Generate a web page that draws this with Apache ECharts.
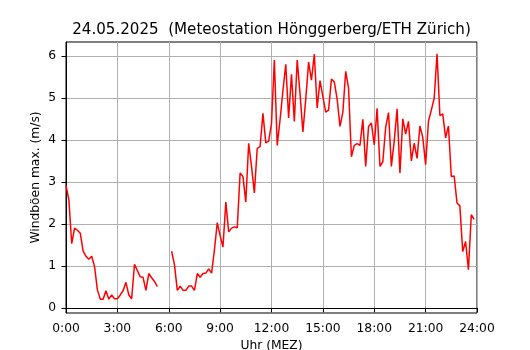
<!DOCTYPE html>
<html>
<head>
<meta charset="utf-8">
<script src="https://cdn.jsdelivr.net/npm/echarts@6/dist/echarts.min.js"></script>
<style>
  html, body { margin: 0; padding: 0; background: #fff; }
  #chart { width: 530px; height: 350px; }
</style>
</head>
<body>
<div id="chart"></div>
<script>
// Windböen, 10-Minuten-Werte ab 0:00 (null = keine Messung)
const stepMinutes = 10;
const gustValues = [
  2.92, 2.58, 1.53, 1.90, 1.85, 1.78, 1.35, 1.23, 1.16, 1.23, 0.99, 0.43,
  0.21, 0.21, 0.41, 0.21, 0.31, 0.22, 0.22, 0.31, 0.41, 0.61, 0.31, 0.22,
  1.04, 0.89, 0.74, 0.73, 0.42, 0.82, 0.72, 0.63, 0.51, null, null, null,
  null, 1.35, 1.03, 0.42, 0.52, 0.42, 0.42, 0.52, 0.52, 0.42, 0.82, 0.73,
  0.82, 0.83, 0.93, 0.83, 1.38, 2.03, 1.72, 1.45, 2.52, 1.81, 1.90, 1.93,
  1.91, 3.21, 3.13, 2.52, 3.92, 3.37, 2.74, 3.80, 3.84, 4.63, 3.93, 3.97,
  4.39, 5.90, 3.87, 4.48, 5.17, 5.80, 4.52, 5.56, 4.44, 5.90, 5.10, 4.19,
  4.97, 5.85, 5.42, 6.04, 4.76, 5.41, 5.03, 4.66, 4.71, 5.45, 5.38, 4.97,
  4.32, 4.66, 5.63, 5.23, 3.60, 3.87, 3.91, 3.87, 4.49, 3.37, 4.32, 4.40,
  3.88, 4.75, 3.37, 3.48, 4.30, 4.65, 3.37, 3.97, 4.74, 3.21, 4.50, 4.14,
  4.44, 3.50, 3.92, 3.56, 4.33, 4.06, 3.41, 4.45, 4.71, 4.99, 6.05, 4.58,
  4.62, 4.05, 4.33, 3.13, 3.14, 2.50, 2.43, 1.34, 1.58, 0.91, 2.22, 2.11
];
const hourTickLabels = ['0:00', '3:00', '6:00', '9:00', '12:00', '15:00', '18:00', '21:00', '24:00'];
const yTickValues = [0, 1, 2, 3, 4, 5, 6];

const seriesData = gustValues.map((v, i) => [i * stepMinutes, v]);

const font = 'DejaVu Sans';
const chart = echarts.init(document.getElementById('chart'), null, { renderer: 'canvas' });

chart.setOption({
  animation: false,
  backgroundColor: '#fff',
  textStyle: { fontFamily: font, color: '#000' },
  title: {
    text: '24.05.2025  (Meteostation Hönggerberg/ETH Zürich)',
    left: 271.5,
    top: 23,
    textAlign: 'center',
    padding: 0,
    textStyle: { fontFamily: font, fontSize: 15.1, fontWeight: 'normal', color: '#000' }
  },
  grid: {
    left: 66, right: 53, top: 42, bottom: 37,
    outerBoundsMode: 'none',
    containLabel: false,
    show: true, borderColor: '#000', borderWidth: 1
  },
  xAxis: {
    type: 'value',
    min: 0, max: 1440, interval: 180,
    name: 'Uhr (MEZ)',
    nameLocation: 'middle',
    nameGap: 27,
    nameMoveOverlap: false,
    nameTextStyle: { fontFamily: font, fontSize: 12.3, color: '#000' },
    axisLine: { show: true, lineStyle: { color: '#000', width: 1 } },
    axisTick: { show: true, inside: false, length: 4.5, lineStyle: { color: '#000', width: 1 } },
    axisLabel: {
      margin: 10, fontFamily: font, fontSize: 12.3, color: '#000',
      formatter: v => hourTickLabels[Math.round(v / 180)]
    },
    splitLine: { show: true, lineStyle: { color: '#b0b0b0', width: 1 } }
  },
  yAxis: {
    type: 'value',
    min: -0.12, max: 6.33,
    name: 'Windböen max. (m/s)',
    nameLocation: 'middle',
    nameRotate: 90,
    nameGap: 24,
    nameMoveOverlap: false,
    nameTextStyle: { fontFamily: font, fontSize: 12.3, color: '#000' },
    axisLine: { show: true, lineStyle: { color: '#000', width: 1 } },
    axisTick: { show: true, inside: false, length: 4.5, customValues: yTickValues, lineStyle: { color: '#000', width: 1 } },
    axisLabel: { margin: 10, fontFamily: font, fontSize: 12.3, color: '#000', customValues: yTickValues },
    splitLine: { show: true, lineStyle: { color: '#b0b0b0', width: 1 } }
  },
  series: [{
    type: 'line',
    data: seriesData,
    showSymbol: false,
    symbol: 'none',
    connectNulls: false,
    lineStyle: { color: '#ff0000', width: 1.5 },
    z: 3
  }]
});
</script>
</body>
</html>
